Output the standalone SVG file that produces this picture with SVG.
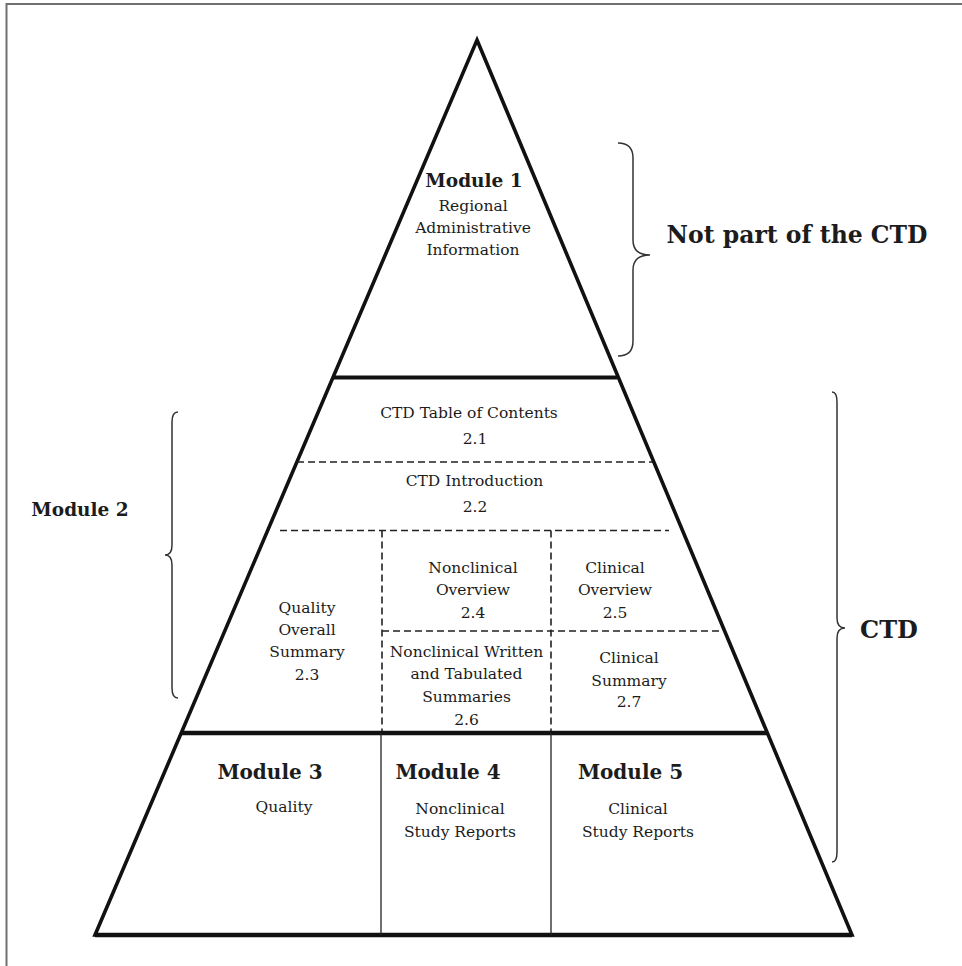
<svg xmlns="http://www.w3.org/2000/svg" width="962" height="966" viewBox="0 0 962 966">
<style>
.t{font-family:"DejaVu Serif","Liberation Serif",serif;font-size:15.5px;fill:#1c1c1c;text-anchor:middle}
.b{font-family:"DejaVu Serif","Liberation Serif",serif;font-weight:bold;fill:#1c1c1c;text-anchor:middle}
.thick{fill:none;stroke:#111;stroke-width:3.6;stroke-linejoin:miter}
.thin{fill:none;stroke:#222;stroke-width:1.3}
.dash{fill:none;stroke:#222;stroke-width:1.6;stroke-dasharray:7 4}
.brace{fill:none;stroke:#333;stroke-width:1.5}
.frame{fill:none;stroke:#707070;stroke-width:2}
</style>
<rect width="962" height="966" fill="#ffffff"/>
<path class="frame" d="M6.5,966 V4 H962"/>

<g id="pyramid">
  <polygon class="thick" points="477,40 852,935 95,935"/>
  <line class="thick" x1="333" y1="377.5" x2="617" y2="377.5" style="stroke-width:4"/>
  <line class="thick" x1="181" y1="733" x2="767" y2="733" style="stroke-width:4.5"/>
  <line class="thick" x1="95" y1="935" x2="852" y2="935" style="stroke-width:4.5"/>
  <line class="thin" x1="381" y1="733" x2="381" y2="935"/>
  <line class="thin" x1="551" y1="733" x2="551" y2="935"/>
  <line class="dash" x1="297" y1="462" x2="652" y2="462"/>
  <line class="dash" x1="280" y1="530.5" x2="669" y2="530.5"/>
  <line class="dash" x1="382" y1="530.5" x2="382" y2="731"/>
  <line class="dash" x1="551" y1="530.5" x2="551" y2="731"/>
  <line class="dash" x1="382" y1="631" x2="723" y2="631"/>
</g>

<g id="connectors">
  <path class="brace" d="M618,143 Q633,143 633,158 L633,240 Q633,255 650,255 Q633,255 633,270 L633,341 Q633,356 618,356"/>
  <path class="brace" d="M832,392 Q837,392 837,402 L837,618 Q837,628 845,628 Q837,628 837,638 L837,852 Q837,862 832,862"/>
  <path class="brace" d="M178,412 Q172,412 172,422 L172,545 Q172,555 165,555 Q172,555 172,565 L172,688 Q172,698 178,698"/>
</g>

<g id="module1">
  <text class="b" x="474" y="187" font-size="18.5">Module 1</text>
  <text class="t" x="473" y="211">Regional</text>
  <text class="t" x="473" y="233">Administrative</text>
  <text class="t" x="473" y="255">Information</text>
</g>

<g id="not-ctd">
  <text class="b" x="797" y="243" font-size="23.5">Not part of the CTD</text>
</g>

<g id="ctd-label">
  <text class="b" x="889" y="638" font-size="24">CTD</text>
</g>

<g id="module2-label">
  <text class="b" x="80" y="516" font-size="18.5">Module 2</text>
</g>

<g id="s2-1">
  <text class="t" x="469" y="418">CTD Table of Contents</text>
  <text class="t" x="475" y="444">2.1</text>
</g>
<g id="s2-2">
  <text class="t" x="474.5" y="486">CTD Introduction</text>
  <text class="t" x="475" y="511.5">2.2</text>
</g>
<g id="s2-3">
  <text class="t" x="307" y="612.5">Quality</text>
  <text class="t" x="307" y="635">Overall</text>
  <text class="t" x="307" y="657">Summary</text>
  <text class="t" x="307" y="680">2.3</text>
</g>
<g id="s2-4">
  <text class="t" x="473" y="572.5">Nonclinical</text>
  <text class="t" x="473" y="595">Overview</text>
  <text class="t" x="473" y="618">2.4</text>
</g>
<g id="s2-5">
  <text class="t" x="615" y="572.5">Clinical</text>
  <text class="t" x="615" y="595">Overview</text>
  <text class="t" x="615" y="618">2.5</text>
</g>
<g id="s2-6">
  <text class="t" x="466.5" y="656.5">Nonclinical Written</text>
  <text class="t" x="466.5" y="679">and Tabulated</text>
  <text class="t" x="466.5" y="701.5">Summaries</text>
  <text class="t" x="466.5" y="725">2.6</text>
</g>
<g id="s2-7">
  <text class="t" x="629" y="663">Clinical</text>
  <text class="t" x="629" y="685.5">Summary</text>
  <text class="t" x="629" y="707">2.7</text>
</g>

<g id="module3">
  <text class="b" x="270" y="779" font-size="20">Module 3</text>
  <text class="t" x="284" y="811.5">Quality</text>
</g>
<g id="module4">
  <text class="b" x="448" y="779" font-size="20">Module 4</text>
  <text class="t" x="460" y="814">Nonclinical</text>
  <text class="t" x="460" y="836.5">Study Reports</text>
</g>
<g id="module5">
  <text class="b" x="630.5" y="779" font-size="20">Module 5</text>
  <text class="t" x="638" y="814">Clinical</text>
  <text class="t" x="638" y="836.5">Study Reports</text>
</g>
</svg>
